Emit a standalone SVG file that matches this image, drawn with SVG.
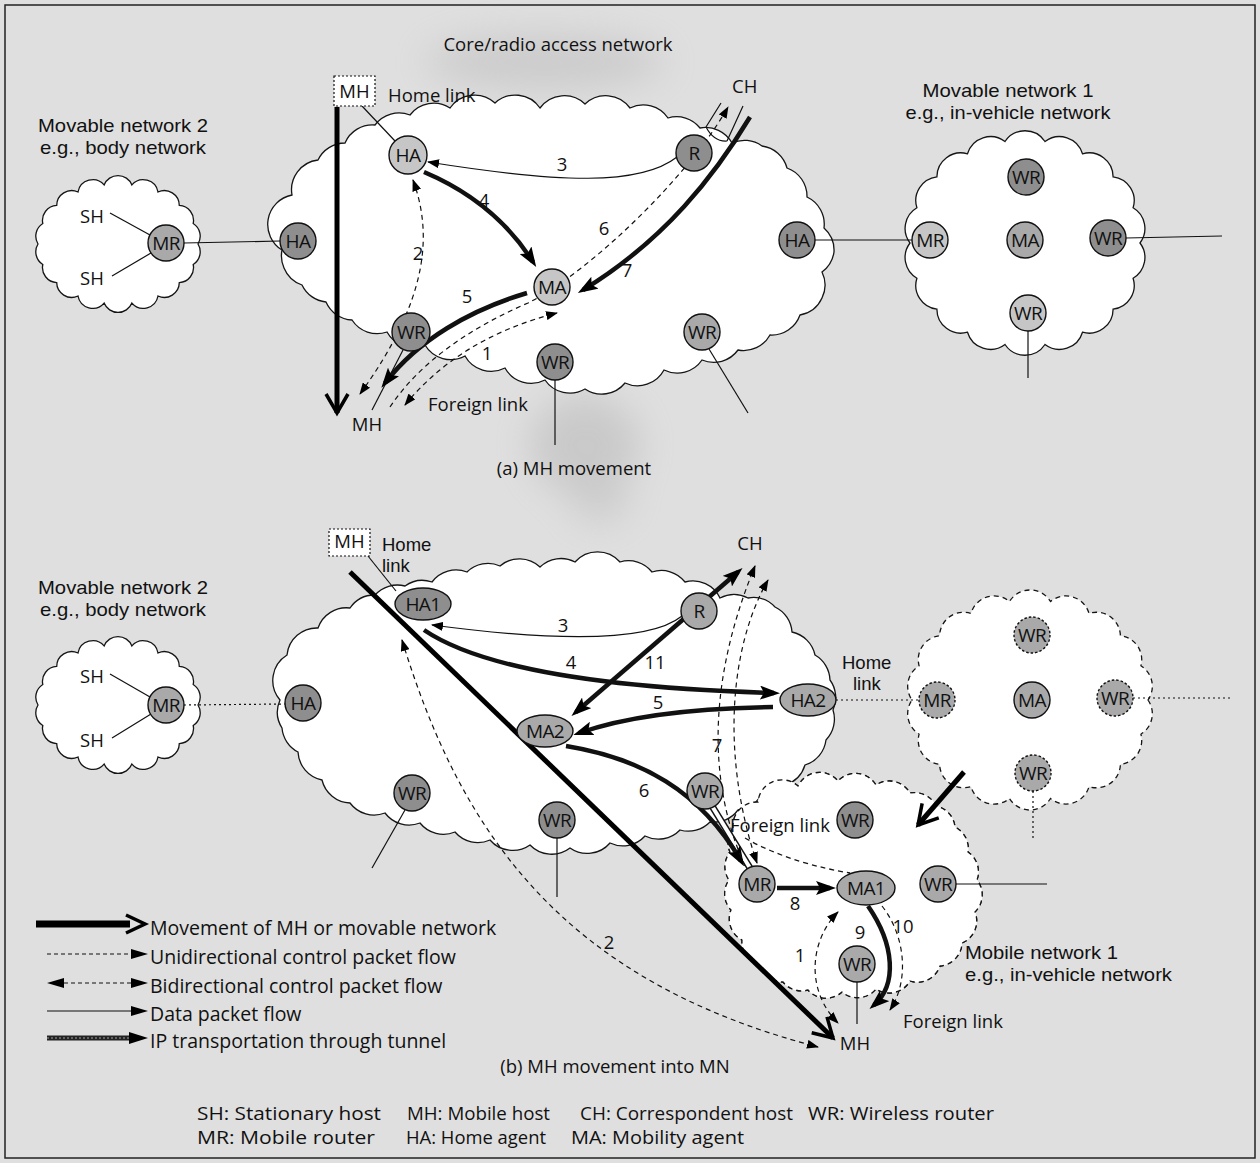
<svg xmlns="http://www.w3.org/2000/svg" width="1260" height="1163" viewBox="0 0 1260 1163">
<style>
.t{font-family:"Open Sans","Noto Sans","DejaVu Sans",sans-serif;font-size:18.5px;fill:#111}
.c{text-anchor:middle}
.s2{font-family:"Liberation Sans",Arial,sans-serif;font-size:19px}
.s3{font-family:"Liberation Sans",Arial,sans-serif;font-size:18.5px}
.lg{font-size:19.5px}
.ab{font-size:19px}
.nt{font-family:"Open Sans","Noto Sans",sans-serif;font-size:19px;text-anchor:middle;letter-spacing:-0.6px;fill:#111}
.cl{fill:#fff;stroke:#151515;stroke-width:1.3}
.cld{fill:#fff;stroke:#151515;stroke-width:1.3;stroke-dasharray:5 4}
.cldo{fill:none;stroke:#151515;stroke-width:1.3;stroke-dasharray:5 4}
.nd{stroke:#111;stroke-width:1.4}
.f1{fill:#c6c6c6}.f2{fill:#a9a9a9}.f3{fill:#8e8e8e}
.dsh{stroke-dasharray:2.5 2}
.ln{fill:none;stroke:#111;stroke-width:1.2}
.dl{stroke-dasharray:5 4}
.dt{stroke-dasharray:2 3}
.tk{fill:none;stroke:#111;stroke-width:4.5}
.mv{fill:none;stroke:#000;stroke-width:5}
</style>
<defs>
<marker id="a" viewBox="0 0 12 9" refX="11" refY="4.5" markerWidth="12" markerHeight="9" orient="auto-start-reverse" markerUnits="userSpaceOnUse"><path d="M0,0 L12,4.5 L0,9 Z" fill="#000"/></marker>
<marker id="t" viewBox="0 0 20 14" refX="14" refY="7" markerWidth="20" markerHeight="14" orient="auto-start-reverse" markerUnits="userSpaceOnUse"><path d="M0,0 L20,7 L0,14 L4,7 Z" fill="#000"/></marker>
<marker id="o" viewBox="0 0 26 26" refX="22" refY="13" markerWidth="26" markerHeight="26" orient="auto" markerUnits="userSpaceOnUse"><path d="M3,2 L22,13 L3,24" fill="none" stroke="#000" stroke-width="3.5"/></marker>
<filter id="blur" x="-50%" y="-50%" width="200%" height="200%"><feGaussianBlur stdDeviation="18"/></filter>
<path id="smallcloud" d="M198,244 A15,15 0 0 1 193.2,264.5 A15,15 0 0 1 179.3,282.6 A15,15 0 0 1 158,296 A15,15 0 0 1 131.9,303.1 A15,15 0 0 1 104.1,303.1 A15,15 0 0 1 78,296 A15,15 0 0 1 56.7,282.6 A15,15 0 0 1 42.8,264.5 A15,15 0 0 1 38,244 A15,15 0 0 1 42.8,223.5 A15,15 0 0 1 56.7,205.4 A15,15 0 0 1 78,192 A15,15 0 0 1 104.1,184.9 A15,15 0 0 1 131.9,184.9 A15,15 0 0 1 158,192 A15,15 0 0 1 179.3,205.4 A15,15 0 0 1 193.2,223.5 A15,15 0 0 1 198,244 Z"/>
</defs>

<!-- background -->
<rect x="0" y="0" width="1260" height="1163" fill="#dfdfdf"/>
<g filter="url(#blur)" opacity="0.3">
<ellipse cx="545" cy="62" rx="120" ry="28" fill="#a0a0a0"/>
<ellipse cx="585" cy="445" rx="55" ry="50" fill="#989898"/>
<ellipse cx="600" cy="500" rx="28" ry="22" fill="#a0a0a0"/>
</g>
<rect x="5" y="5" width="1250" height="1153" fill="none" stroke="#222" stroke-width="1.5"/>

<!-- clouds (a) -->
<g id="a-core-cloud">
<path class="cl" d="M282,250 A30,30 0 0 1 292,195 A30,30 0 0 1 318,160 A30,30 0 0 1 345,143 A30,30 0 0 1 375,125 A30,30 0 0 1 410,115 A30,30 0 0 1 450,108 A30,30 0 0 1 495,103 A30,30 0 0 1 540,108 A30,30 0 0 1 585,104 A30,30 0 0 1 630,108 A30,30 0 0 1 668,118 A30,30 0 0 1 700,128 A30,30 0 0 1 732,143 A30,30 0 0 1 762,146 A30,30 0 0 1 787,168 A30,30 0 0 1 807,197 A30,30 0 0 1 824,228 A30,30 0 0 1 834,252 A30,30 0 0 1 822,272 A30,30 0 0 1 822,298 A30,30 0 0 1 800,315 A30,30 0 0 1 770,335 A30,30 0 0 1 738,350 A30,30 0 0 1 702,360 A30,30 0 0 1 664,370 A30,30 0 0 1 625,383 A30,30 0 0 1 585,389 A30,30 0 0 1 545,380 A30,30 0 0 1 505,368 A30,30 0 0 1 465,356 A30,30 0 0 1 425,345 A30,30 0 0 1 387,332 A30,30 0 0 1 352,320 A30,30 0 0 1 326,302 A30,30 0 0 1 302,285 A30,30 0 0 1 284,268 A30,30 0 0 1 282,250 Z"/>
</g>
<g id="a-body-cloud"><use href="#smallcloud" class="cl"/></g>
<g id="a-vehicle-cloud">
<path class="cl" d="M1140,243 A24,24 0 0 1 1133.1,278.2 A24,24 0 0 1 1113.1,309.2 A24,24 0 0 1 1082.5,332.2 A24,24 0 0 1 1045,344.5 A24,24 0 0 1 1005,344.5 A24,24 0 0 1 967.5,332.2 A24,24 0 0 1 936.9,309.2 A24,24 0 0 1 916.9,278.2 A24,24 0 0 1 910,243 A24,24 0 0 1 916.9,207.8 A24,24 0 0 1 936.9,176.8 A24,24 0 0 1 967.5,153.8 A24,24 0 0 1 1005,141.5 A24,24 0 0 1 1045,141.5 A24,24 0 0 1 1082.5,153.8 A24,24 0 0 1 1113.1,176.8 A24,24 0 0 1 1133.1,207.8 A24,24 0 0 1 1140,243 Z"/>
</g>

<!-- clouds (b) -->
<g id="b-old-vehicle-cloud">
<path class="cld" d="M1148,700 A24,24 0 0 1 1140.9,734.2 A24,24 0 0 1 1120.4,764.3 A24,24 0 0 1 1089,786.6 A24,24 0 0 1 1050.5,798.5 A24,24 0 0 1 1009.5,798.5 A24,24 0 0 1 971,786.6 A24,24 0 0 1 939.6,764.3 A24,24 0 0 1 919.1,734.2 A24,24 0 0 1 912,700 A24,24 0 0 1 919.1,665.8 A24,24 0 0 1 939.6,635.7 A24,24 0 0 1 971,613.4 A24,24 0 0 1 1009.5,601.5 A24,24 0 0 1 1050.5,601.5 A24,24 0 0 1 1089,613.4 A24,24 0 0 1 1120.4,635.7 A24,24 0 0 1 1140.9,665.8 A24,24 0 0 1 1148,700 Z"/>
</g>
<g id="b-mobile-cloud">
<path id="mobcl" class="cld" d="M733,828 A24,24 0 0 1 758,802 A24,24 0 0 1 798,786 A24,24 0 0 1 838,781 A24,24 0 0 1 876,785 A24,24 0 0 1 910,793 A24,24 0 0 1 936,806 A24,24 0 0 1 955,827 A24,24 0 0 1 968,852 A24,24 0 0 1 977,880 A24,24 0 0 1 975,912 A24,24 0 0 1 962,943 A24,24 0 0 1 940,966 A24,24 0 0 1 910,981 A24,24 0 0 1 876,989 A24,24 0 0 1 842,992 A24,24 0 0 1 808,990 A24,24 0 0 1 783,982 A24,24 0 0 1 760,965 A24,24 0 0 1 742,940 A24,24 0 0 1 731,910 A24,24 0 0 1 729,880 A24,24 0 0 1 730,852 A24,24 0 0 1 733,828 Z"/>
</g>
<g id="b-core-cloud">
<path class="cl" d="M280,700 A30,30 0 0 1 287,655 A30,30 0 0 1 318,628 A30,30 0 0 1 350,608 A30,30 0 0 1 375,595 A30,30 0 0 1 405,586 A30,30 0 0 1 432,582 A30,30 0 0 1 467,572 A30,30 0 0 1 500,566 A30,30 0 0 1 540,567 A30,30 0 0 1 575,562 A30,30 0 0 1 620,562 A30,30 0 0 1 652,572 A30,30 0 0 1 685,582 A30,30 0 0 1 720,598 A30,30 0 0 1 748,598 A30,30 0 0 1 775,607 A30,30 0 0 1 792,632 A30,30 0 0 1 815,655 A30,30 0 0 1 830,680 A30,30 0 0 1 833,710 A30,30 0 0 1 826,740 A30,30 0 0 1 805,765 A30,30 0 0 1 785,785 A30,30 0 0 1 760,797 A30,30 0 0 1 738,810 A30,30 0 0 1 710,822 A30,30 0 0 1 680,830 A30,30 0 0 1 645,836 A30,30 0 0 1 610,843 A30,30 0 0 1 570,848 A30,30 0 0 1 530,845 A30,30 0 0 1 490,840 A30,30 0 0 1 455,832 A30,30 0 0 1 420,823 A30,30 0 0 1 385,813 A30,30 0 0 1 350,803 A30,30 0 0 1 322,780 A30,30 0 0 1 298,752 A30,30 0 0 1 282,728 A30,30 0 0 1 280,700 Z"/>
</g>
<g id="b-body-cloud"><use href="#smallcloud" class="cl" transform="translate(0,461)"/></g>
<use href="#mobcl" class="cldo" style="fill:none"/>
<path class="cldo" d="M745,838 C780,858 820,868 850,873"/>

<!-- connectors -->
<g id="connectors">
<!-- (a) -->
<path class="mv" d="M337,107 L337,413" marker-end="url(#o)"/>
<path class="ln" d="M362,106 L395,141"/>
<path class="ln" d="M184,243 L280,241"/>
<path class="ln" d="M110,213 L150,235"/>
<path class="ln" d="M112,276 L151,253"/>
<path class="ln" d="M403,350 L372,410"/>
<path class="ln" d="M555,380 L555,445"/>
<path class="ln" d="M709,349 L748,413"/>
<path class="ln" d="M815,240 L912,240"/>
<path class="ln" d="M1126,238 L1222,236"/>
<path class="ln" d="M1028,331 L1028,378"/>
<path class="ln" d="M706,127 L721,103 M727,141 L743,106 M706,127 Q714,142 727,141"/>
<path class="ln" d="M677,157 C640,186 560,183 428,162" marker-end="url(#a)"/>
<path class="tk" d="M424,172 Q495,202 533,262" marker-end="url(#t)"/>
<path class="tk" d="M527,293 C470,310 418,340 385,383" marker-end="url(#t)"/>
<path class="tk" d="M750,117 C715,175 665,240 583,290" marker-end="url(#t)"/>
<path class="ln dl" d="M413,180 C433,235 428,300 360,394" marker-start="url(#a)" marker-end="url(#a)"/>
<path class="ln dl" d="M405,405 C440,362 490,330 557,313" marker-start="url(#a)" marker-end="url(#a)"/>
<path class="ln dl" d="M390,407 C420,362 470,328 528,303 C590,272 690,175 728,107" marker-end="url(#a)"/>
<!-- (b) -->
<path class="mv" d="M350,572 L833,1038" marker-end="url(#o)"/>
<path class="mv" d="M964,772 L918,825" marker-end="url(#o)"/>
<path class="ln" d="M368,556 L396,591"/>
<path class="ln dt" d="M184,705 L285,704"/>
<path class="ln" d="M110,674 L150,697"/>
<path class="ln" d="M112,738 L151,714"/>
<path class="ln" d="M405,810 L372,868"/>
<path class="ln" d="M557,838 L557,897"/>
<path class="ln" d="M956,884 L1047,884"/>
<path class="ln" d="M857,982 L857,1024"/>
<path class="ln dt" d="M836,700 L919,700"/>
<path class="ln dt" d="M1133,698 L1230,698"/>
<path class="ln dt" d="M1033,791 L1033,840"/>
<path class="ln" d="M682,616 C650,642 560,642 432,625" marker-end="url(#a)"/>
<path class="tk" d="M424,630 C480,668 600,688 774,693" marker-end="url(#t)"/>
<path class="tk" d="M773,707 C700,708 630,715 579,733" marker-end="url(#t)"/>
<path class="tk" d="M576,712 L738,572" marker-start="url(#t)" marker-end="url(#t)"/>
<path d="M712,806 L750,868" stroke="#111" stroke-width="7" fill="none"/>
<path d="M712,806 L750,868" stroke="#fff" stroke-width="4" fill="none"/>
<path class="tk" d="M566,746 C640,758 700,790 741,861" marker-end="url(#t)"/>
<path class="ln dl" d="M745,866 C715,800 700,700 755,566" marker-end="url(#a)"/>
<path class="ln dl" d="M768,580 C728,650 722,760 757,863" marker-start="url(#a)" marker-end="url(#a)"/>
<path class="tk" d="M777,888 L830,888" marker-end="url(#t)"/>
<path class="tk" d="M868,906 C895,945 897,985 874,1005" marker-end="url(#t)"/>
<path class="ln dl" d="M882,906 C905,935 910,980 890,1010" marker-end="url(#a)"/>
<path class="ln dl" d="M838,912 C810,940 805,990 838,1023" marker-start="url(#a)" marker-end="url(#a)"/>
<path class="ln dl" d="M402,640 C460,830 560,980 818,1047" marker-start="url(#a)" marker-end="url(#a)"/>
</g>

<!-- nodes (a) -->
<g id="a-MH-home"><rect x="334" y="76" width="41" height="30" fill="#fff" stroke="#111" stroke-width="1.2" stroke-dasharray="2 2"/><text class="t c" x="354.5" y="98">MH</text></g>
<g id="a-HA-home"><circle class="nd f1" cx="408" cy="155" r="19"/><text class="nt" x="408" y="162">HA</text></g>
<g id="a-HA-left"><circle class="nd f3" cx="298" cy="241" r="18"/><text class="nt" x="298" y="248">HA</text></g>
<g id="a-MR-body"><circle class="nd f2" cx="166" cy="243" r="18"/><text class="nt" x="166" y="250">MR</text></g>
<g id="a-R"><circle class="nd f3" cx="694" cy="153" r="18"/><text class="nt" x="694" y="160">R</text></g>
<g id="a-MA"><circle class="nd f1" cx="552" cy="287" r="18"/><text class="nt" x="552" y="294">MA</text></g>
<g id="a-WR1"><circle class="nd f3" cx="411" cy="332" r="19"/><text class="nt" x="411" y="339">WR</text></g>
<g id="a-WR2"><circle class="nd f3" cx="555" cy="362" r="18"/><text class="nt" x="555" y="369">WR</text></g>
<g id="a-WR3"><circle class="nd f2" cx="702" cy="332" r="18"/><text class="nt" x="702" y="339">WR</text></g>
<g id="a-HA-right"><circle class="nd f3" cx="797" cy="240" r="18"/><text class="nt" x="797" y="247">HA</text></g>
<g id="a-MR-veh"><circle class="nd f1" cx="930" cy="240" r="18"/><text class="nt" x="930" y="247">MR</text></g>
<g id="a-MA-veh"><circle class="nd f2" cx="1025" cy="240" r="18"/><text class="nt" x="1025" y="247">MA</text></g>
<g id="a-WR-top"><circle class="nd f3" cx="1026" cy="177" r="18"/><text class="nt" x="1026" y="184">WR</text></g>
<g id="a-WR-right"><circle class="nd f3" cx="1108" cy="238" r="18"/><text class="nt" x="1108" y="245">WR</text></g>
<g id="a-WR-bottom"><circle class="nd f1" cx="1028" cy="313" r="18"/><text class="nt" x="1028" y="320">WR</text></g>

<!-- nodes (b) -->
<g id="b-MH-home"><rect x="329" y="529" width="41" height="27" fill="#fff" stroke="#111" stroke-width="1.2" stroke-dasharray="2 2"/><text class="t c" x="349.5" y="548">MH</text></g>
<g id="b-HA1"><ellipse class="nd f3" cx="423" cy="604" rx="28" ry="16"/><text class="nt" x="423" y="611">HA1</text></g>
<g id="b-R"><circle class="nd f2" cx="699" cy="611" r="18"/><text class="nt" x="699" y="618">R</text></g>
<g id="b-HA2"><ellipse class="nd f2" cx="808" cy="700" rx="28" ry="16"/><text class="nt" x="808" y="707">HA2</text></g>
<g id="b-MA2"><ellipse class="nd f2" cx="545" cy="731" rx="28" ry="16"/><text class="nt" x="545" y="738">MA2</text></g>
<g id="b-HA-left"><circle class="nd f3" cx="303" cy="703" r="18"/><text class="nt" x="303" y="710">HA</text></g>
<g id="b-MR-body"><circle class="nd f2" cx="166" cy="705" r="18"/><text class="nt" x="166" y="712">MR</text></g>
<g id="b-WR1"><circle class="nd f3" cx="412" cy="793" r="18"/><text class="nt" x="412" y="800">WR</text></g>
<g id="b-WR2"><circle class="nd f3" cx="557" cy="820" r="18"/><text class="nt" x="557" y="827">WR</text></g>
<g id="b-WR3"><circle class="nd f2" cx="705" cy="791" r="18"/><text class="nt" x="705" y="798">WR</text></g>
<g id="b-WR4"><circle class="nd f3" cx="855" cy="820" r="18"/><text class="nt" x="855" y="827">WR</text></g>
<g id="b-MR"><circle class="nd f2" cx="757" cy="884" r="18"/><text class="nt" x="757" y="891">MR</text></g>
<g id="b-MA1"><ellipse class="nd f2" cx="866" cy="888" rx="29" ry="17"/><text class="nt" x="866" y="895">MA1</text></g>
<g id="b-WR5"><circle class="nd f2" cx="938" cy="884" r="18"/><text class="nt" x="938" y="891">WR</text></g>
<g id="b-WR6"><circle class="nd f2" cx="857" cy="964" r="18"/><text class="nt" x="857" y="971">WR</text></g>
<g id="b-old-WR-top"><circle class="nd f2 dsh" cx="1032" cy="635" r="18"/><text class="nt" x="1032" y="642">WR</text></g>
<g id="b-old-MR"><circle class="nd f2 dsh" cx="937" cy="700" r="18"/><text class="nt" x="937" y="707">MR</text></g>
<g id="b-old-MA"><circle class="nd f2" cx="1032" cy="700" r="18"/><text class="nt" x="1032" y="707">MA</text></g>
<g id="b-old-WR-right"><circle class="nd f2 dsh" cx="1115" cy="698" r="18"/><text class="nt" x="1115" y="705">WR</text></g>
<g id="b-old-WR-bottom"><circle class="nd f2 dsh" cx="1033" cy="773" r="18"/><text class="nt" x="1033" y="780">WR</text></g>

<!-- labels (a) -->
<g id="labels-a">
<text class="t c" x="558" y="51">Core/radio access network</text>
<text class="t" x="388" y="102">Home link</text>
<text class="t" x="732" y="93">CH</text>
<text class="t s2 c" x="1008" y="97" textLength="171" lengthAdjust="spacingAndGlyphs">Movable network 1</text>
<text class="t s2 c" x="1008" y="119" textLength="205" lengthAdjust="spacingAndGlyphs">e.g., in-vehicle network</text>
<text class="t s2 c" x="123" y="132" textLength="170" lengthAdjust="spacingAndGlyphs">Movable network 2</text>
<text class="t s2 c" x="123" y="154" textLength="166" lengthAdjust="spacingAndGlyphs">e.g., body network</text>
<text class="t" x="80" y="223">SH</text>
<text class="t" x="80" y="285">SH</text>
<text class="t c" x="562" y="171">3</text>
<text class="t c" x="484" y="207">4</text>
<text class="t c" x="604" y="235">6</text>
<text class="t c" x="627" y="277">7</text>
<text class="t c" x="418" y="260">2</text>
<text class="t c" x="467" y="303">5</text>
<text class="t c" x="487" y="360">1</text>
<text class="t" x="428" y="411">Foreign link</text>
<text class="t c" x="367" y="431">MH</text>
<text class="t c" x="574" y="475">(a) MH movement</text>
</g>

<!-- labels (b) -->
<g id="labels-b">
<text class="t s3" x="382" y="551">Home</text>
<text class="t s3" x="382" y="572">link</text>
<text class="t c" x="750" y="550">CH</text>
<text class="t s2 c" x="123" y="594" textLength="170" lengthAdjust="spacingAndGlyphs">Movable network 2</text>
<text class="t s2 c" x="123" y="616" textLength="166" lengthAdjust="spacingAndGlyphs">e.g., body network</text>
<text class="t" x="80" y="683">SH</text>
<text class="t" x="80" y="747">SH</text>
<text class="t c" x="563" y="632">3</text>
<text class="t c" x="571" y="669">4</text>
<text class="t c" x="655" y="669">11</text>
<text class="t c" x="658" y="709">5</text>
<text class="t c" x="717" y="752">7</text>
<text class="t c" x="644" y="797">6</text>
<text class="t c" x="795" y="910">8</text>
<text class="t c" x="860" y="939">9</text>
<text class="t c" x="903" y="933">10</text>
<text class="t c" x="800" y="962">1</text>
<text class="t c" x="609" y="949">2</text>
<text class="t s3" x="842" y="669">Home</text>
<text class="t s3" x="853" y="690">link</text>
<text class="t" x="730" y="832">Foreign link</text>
<text class="t" x="903" y="1028">Foreign link</text>
<text class="t s2" x="965" y="959" textLength="153" lengthAdjust="spacingAndGlyphs">Mobile network 1</text>
<text class="t s2" x="965" y="981" textLength="207" lengthAdjust="spacingAndGlyphs">e.g., in-vehicle network</text>
<text class="t c" x="855" y="1050">MH</text>
<text class="t c" x="615" y="1073">(b) MH movement into MN</text>
</g>

<!-- legend -->
<g id="legend">
<path d="M36,924 L130,924" stroke="#000" stroke-width="7"/>
<path d="M126,915 L145,924 L126,933" fill="none" stroke="#000" stroke-width="3.5"/>
<text class="t lg" x="150" y="935">Movement of MH or movable network</text>
<path d="M47,954 L131,954" stroke="#111" stroke-width="1.2" stroke-dasharray="4 3"/>
<path d="M131,949 L148,954 L131,959 Z" fill="#000"/>
<text class="t lg" x="150" y="964">Unidirectional control packet flow</text>
<path d="M64,983 L131,983" stroke="#111" stroke-width="1.2" stroke-dasharray="4 3"/>
<path d="M47,983 L64,978 L64,988 Z" fill="#000"/>
<path d="M131,978 L148,983 L131,988 Z" fill="#000"/>
<text class="t lg" x="150" y="993">Bidirectional control packet flow</text>
<path d="M47,1011 L132,1011" stroke="#111" stroke-width="1.2"/>
<path d="M131,1006 L148,1011 L131,1016 Z" fill="#000"/>
<text class="t lg" x="150" y="1021">Data packet flow</text>
<path d="M47,1038 L132,1038" stroke="#222" stroke-width="5"/>
<path d="M47,1038 L132,1038" stroke="#777" stroke-width="1.5" stroke-dasharray="2 2"/>
<path d="M129,1032 L148,1038 L129,1044 Z" fill="#000"/>
<text class="t lg" x="150" y="1048">IP transportation through tunnel</text>
</g>

<g id="abbreviations">
<text class="t ab" x="197" y="1120" textLength="184" lengthAdjust="spacingAndGlyphs">SH: Stationary host</text>
<text class="t ab" x="407" y="1120" textLength="143" lengthAdjust="spacingAndGlyphs">MH: Mobile host</text>
<text class="t ab" x="580" y="1120" textLength="213" lengthAdjust="spacingAndGlyphs">CH: Correspondent host</text>
<text class="t ab" x="808" y="1120" textLength="186" lengthAdjust="spacingAndGlyphs">WR: Wireless router</text>
<text class="t ab" x="197" y="1144" textLength="178" lengthAdjust="spacingAndGlyphs">MR: Mobile router</text>
<text class="t ab" x="406" y="1144" textLength="140" lengthAdjust="spacingAndGlyphs">HA: Home agent</text>
<text class="t ab" x="571" y="1144" textLength="173" lengthAdjust="spacingAndGlyphs">MA: Mobility agent</text>
</g>
</svg>
